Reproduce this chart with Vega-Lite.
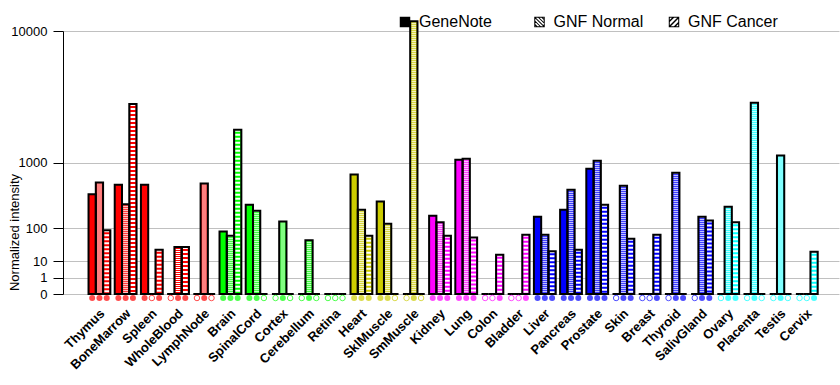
{
  "$schema": "https://vega.github.io/schema/vega-lite/v6.json",
  "width": 776,
  "height": 263,
  "autosize": {"type": "none"},
  "padding": {"left": 63, "top": 31, "right": 1, "bottom": 91},
  "background": "white",
  "config": {"view": {"stroke": null}, "font": "Liberation Sans"},
  "data": {"values": [
    {"t":"Thymus","g":"H","s":"GeneNote","v":400,"p":1},{"t":"Thymus","g":"H","s":"GNF Normal","v":580,"p":1},{"t":"Thymus","g":"H","s":"GNF Cancer","v":90,"p":1},
    {"t":"BoneMarrow","g":"H","s":"GeneNote","v":540,"p":1},{"t":"BoneMarrow","g":"H","s":"GNF Normal","v":280,"p":1},{"t":"BoneMarrow","g":"H","s":"GNF Cancer","v":3400,"p":1},
    {"t":"Spleen","g":"H","s":"GeneNote","v":540,"p":1},{"t":"Spleen","g":"H","s":"GNF Normal","v":0,"p":0},{"t":"Spleen","g":"H","s":"GNF Cancer","v":27,"p":1},
    {"t":"WholeBlood","g":"H","s":"GeneNote","v":0,"p":0},{"t":"WholeBlood","g":"H","s":"GNF Normal","v":33,"p":1},{"t":"WholeBlood","g":"H","s":"GNF Cancer","v":33,"p":1},
    {"t":"LymphNode","g":"H","s":"GeneNote","v":0,"p":0},{"t":"LymphNode","g":"H","s":"GNF Normal","v":560,"p":1},{"t":"LymphNode","g":"H","s":"GNF Cancer","v":0,"p":0},
    {"t":"Brain","g":"N","s":"GeneNote","v":84,"p":1},{"t":"Brain","g":"N","s":"GNF Normal","v":67,"p":1},{"t":"Brain","g":"N","s":"GNF Cancer","v":2090,"p":1},
    {"t":"SpinalCord","g":"N","s":"GeneNote","v":276,"p":1},{"t":"SpinalCord","g":"N","s":"GNF Normal","v":219,"p":1},{"t":"SpinalCord","g":"N","s":"GNF Cancer","v":0,"p":0},
    {"t":"Cortex","g":"N","s":"GeneNote","v":0,"p":0},{"t":"Cortex","g":"N","s":"GNF Normal","v":139,"p":1},{"t":"Cortex","g":"N","s":"GNF Cancer","v":0,"p":0},
    {"t":"Cerebellum","g":"N","s":"GeneNote","v":0,"p":0},{"t":"Cerebellum","g":"N","s":"GNF Normal","v":51,"p":1},{"t":"Cerebellum","g":"N","s":"GNF Cancer","v":0,"p":0},
    {"t":"Retina","g":"N","s":"GeneNote","v":0,"p":0},{"t":"Retina","g":"N","s":"GNF Normal","v":0,"p":0},{"t":"Retina","g":"N","s":"GNF Cancer","v":0,"p":0},
    {"t":"Heart","g":"M","s":"GeneNote","v":730,"p":1},{"t":"Heart","g":"M","s":"GNF Normal","v":228,"p":1},{"t":"Heart","g":"M","s":"GNF Cancer","v":67,"p":1},
    {"t":"SklMuscle","g":"M","s":"GeneNote","v":312,"p":1},{"t":"SklMuscle","g":"M","s":"GNF Normal","v":125,"p":1},{"t":"SklMuscle","g":"M","s":"GNF Cancer","v":0,"p":0},
    {"t":"SmMuscle","g":"M","s":"GeneNote","v":0,"p":0},{"t":"SmMuscle","g":"M","s":"GNF Normal","v":11300,"p":1},{"t":"SmMuscle","g":"M","s":"GNF Cancer","v":0,"p":0},
    {"t":"Kidney","g":"V","s":"GeneNote","v":179,"p":1},{"t":"Kidney","g":"V","s":"GNF Normal","v":133,"p":1},{"t":"Kidney","g":"V","s":"GNF Cancer","v":67,"p":1},
    {"t":"Lung","g":"V","s":"GeneNote","v":1070,"p":1},{"t":"Lung","g":"V","s":"GNF Normal","v":1100,"p":1},{"t":"Lung","g":"V","s":"GNF Cancer","v":60,"p":1},
    {"t":"Colon","g":"V","s":"GeneNote","v":0,"p":0},{"t":"Colon","g":"V","s":"GNF Normal","v":0,"p":0},{"t":"Colon","g":"V","s":"GNF Cancer","v":18,"p":1},
    {"t":"Bladder","g":"V","s":"GeneNote","v":0,"p":0},{"t":"Bladder","g":"V","s":"GNF Normal","v":0,"p":0},{"t":"Bladder","g":"V","s":"GNF Cancer","v":71,"p":1},
    {"t":"Liver","g":"G","s":"GeneNote","v":171,"p":1},{"t":"Liver","g":"G","s":"GNF Normal","v":71,"p":1},{"t":"Liver","g":"G","s":"GNF Cancer","v":24,"p":1},
    {"t":"Pancreas","g":"G","s":"GeneNote","v":228,"p":1},{"t":"Pancreas","g":"G","s":"GNF Normal","v":462,"p":1},{"t":"Pancreas","g":"G","s":"GNF Cancer","v":27,"p":1},
    {"t":"Prostate","g":"G","s":"GeneNote","v":851,"p":1},{"t":"Prostate","g":"G","s":"GNF Normal","v":1045,"p":1},{"t":"Prostate","g":"G","s":"GNF Cancer","v":276,"p":1},
    {"t":"Skin","g":"G","s":"GeneNote","v":0,"p":0},{"t":"Skin","g":"G","s":"GNF Normal","v":525,"p":1},{"t":"Skin","g":"G","s":"GNF Cancer","v":56,"p":1},
    {"t":"Breast","g":"G","s":"GeneNote","v":0,"p":0},{"t":"Breast","g":"G","s":"GNF Normal","v":0,"p":0},{"t":"Breast","g":"G","s":"GNF Cancer","v":71,"p":1},
    {"t":"Thyroid","g":"G","s":"GeneNote","v":0,"p":0},{"t":"Thyroid","g":"G","s":"GNF Normal","v":764,"p":1},{"t":"Thyroid","g":"G","s":"GNF Cancer","v":0,"p":1},
    {"t":"SalivGland","g":"G","s":"GeneNote","v":0,"p":0},{"t":"SalivGland","g":"G","s":"GNF Normal","v":171,"p":1},{"t":"SalivGland","g":"G","s":"GNF Cancer","v":144,"p":1},
    {"t":"Ovary","g":"R","s":"GeneNote","v":0,"p":0},{"t":"Ovary","g":"R","s":"GNF Normal","v":256,"p":1},{"t":"Ovary","g":"R","s":"GNF Cancer","v":133,"p":1},
    {"t":"Placenta","g":"R","s":"GeneNote","v":0,"p":0},{"t":"Placenta","g":"R","s":"GNF Normal","v":3470,"p":1},{"t":"Placenta","g":"R","s":"GNF Cancer","v":0,"p":0},
    {"t":"Testis","g":"R","s":"GeneNote","v":0,"p":0},{"t":"Testis","g":"R","s":"GNF Normal","v":1190,"p":1},{"t":"Testis","g":"R","s":"GNF Cancer","v":0,"p":0},
    {"t":"Cervix","g":"R","s":"GeneNote","v":0,"p":0},{"t":"Cervix","g":"R","s":"GNF Normal","v":0,"p":0},{"t":"Cervix","g":"R","s":"GNF Cancer","v":23,"p":1}
  ]},
  "encoding": {
    "x": {
      "field": "t", "type": "nominal", "sort": null,
      "scale": {"paddingInner": 0, "paddingOuter": 0.81, "align": 0.55},
      "axis": {
        "title": null, "domain": false, "ticks": false,
        "labelAngle": -45, "labelAlign": "right", "labelBaseline": "middle",
        "labelFontSize": 13, "labelFontWeight": "bold", "labelColor": "black",
        "labelPadding": 17, "labelOffset": 3, "labelOverlap": false, "labelBound": false
      }
    },
    "xOffset": {
      "field": "s", "type": "nominal", "sort": ["GeneNote", "GNF Normal", "GNF Cancer"],
      "scale": {"paddingInner": 0, "paddingOuter": 0.3}
    }
  },
  "layer": [
    {
      "mark": {"type": "bar", "strokeWidth": 0},
      "encoding": {
        "y": {
          "field": "v", "type": "quantitative",
          "scale": {"type": "pow", "exponent": 0.30103, "domain": [0, 10000], "nice": false, "zero": true},
          "axis": {
            "values": [0, 1, 10, 100, 1000, 10000], "format": "d",
            "grid": true, "gridColor": "#c0c0c0", "gridWidth": 1,
            "domainColor": "black", "domainWidth": 1,
            "tickColor": "black", "tickSize": 10, "tickWidth": 1,
            "labelFontSize": 13, "labelColor": "black", "labelPadding": 6,
            "title": "Normalized intensity", "titleFontSize": 13, "titleFontWeight": "normal",
            "titleColor": "black", "titleAngle": 270, "titleX": -45, "titleY": 201,
            "titleAlign": "center", "titleBaseline": "alphabetic"
          }
        },
        "color": {
          "field": "g", "type": "nominal", "legend": null,
          "scale": {"domain": ["H", "N", "M", "V", "G", "R"], "range": ["#ff0000", "#00ff00", "#cccc00", "#ff00ff", "#0000ff", "#00ffff"]}
        }
      }
    },
    {
      "transform": [{"filter": "datum.s == 'GNF Normal' && datum.v > 0"}],
      "mark": {"type": "rule", "stroke": "white", "strokeWidth": 5, "strokeDash": [1, 1], "strokeCap": "butt"},
      "encoding": {
        "y": {"field": "v", "type": "quantitative"},
        "y2": {"datum": 0}
      }
    },
    {
      "transform": [{"filter": "datum.s == 'GNF Cancer' && datum.v > 0"}],
      "mark": {"type": "rule", "stroke": "white", "strokeWidth": 5, "strokeDash": [2, 2], "strokeCap": "butt"},
      "encoding": {
        "y": {"field": "v", "type": "quantitative"},
        "y2": {"datum": 0}
      }
    },
    {
      "mark": {"type": "bar", "fillOpacity": 0, "stroke": "black", "strokeWidth": 2},
      "encoding": {
        "y": {"field": "v", "type": "quantitative"}
      }
    },
    {
      "transform": [{"filter": "datum.p == 1"}],
      "mark": {"type": "point", "shape": "circle", "filled": true, "size": 36, "strokeWidth": 1, "yOffset": 4},
      "encoding": {
        "y": {"datum": 0, "type": "quantitative"},
        "color": {"field": "g", "type": "nominal", "legend": null}
      }
    },
    {
      "transform": [{"filter": "datum.p == 0"}],
      "mark": {"type": "point", "shape": "circle", "filled": false, "fill": "white", "size": 30, "strokeWidth": 1, "yOffset": 4},
      "encoding": {
        "y": {"datum": 0, "type": "quantitative"},
        "color": {"field": "g", "type": "nominal", "legend": null}
      }
    },
    {
      "mark": {"type": "point", "filled": true, "color": "black", "opacity": 0},
      "encoding": {
        "y": {"datum": 0, "type": "quantitative"},
        "shape": {
          "field": "s", "type": "nominal",
          "scale": {
            "domain": ["GeneNote", "GNF Normal", "GNF Cancer"],
            "range": [
              "square",
              "M-1,-1H1V1H-1Z M-0.8,-0.8V0.8H0.8V-0.8Z M-1,-1L-0.88,-1L1,0.88L1,1L0.88,1L-1,-0.88Z M-0.45,-1L-0.21,-1L1,0.21L1,0.45Z M0.21,-1L0.45,-1L1,-0.45L1,-0.21Z M0.45,1L0.21,1L-1,-0.21L-1,-0.45Z M-0.21,1L-0.45,1L-1,0.45L-1,0.21Z",
              "M-1,-1H1V1H-1Z M-0.8,-0.8V0.8H0.8V-0.8Z M1,-0.8L-0.8,1L-1,1L-1,0.8L0.8,-1L1,-1Z M-1,0.2L-1,-0.2L-0.2,-1L0.2,-1Z M1,-0.2L1,0.2L0.2,1L-0.2,1Z"
            ]
          },
          "legend": {
            "title": null, "orient": "none", "legendX": 334, "legendY": -17, "direction": "horizontal",
            "padding": 0, "gridAlign": "all", "columnPadding": 22.5,
            "symbolSize": 110, "symbolFillColor": "black", "symbolStrokeWidth": 0,
            "symbolOpacity": 1, "labelFontSize": 16, "labelColor": "black", "labelOffset": 6, "labelLimit": 200
          }
        }
      }
    }
  ]
}
